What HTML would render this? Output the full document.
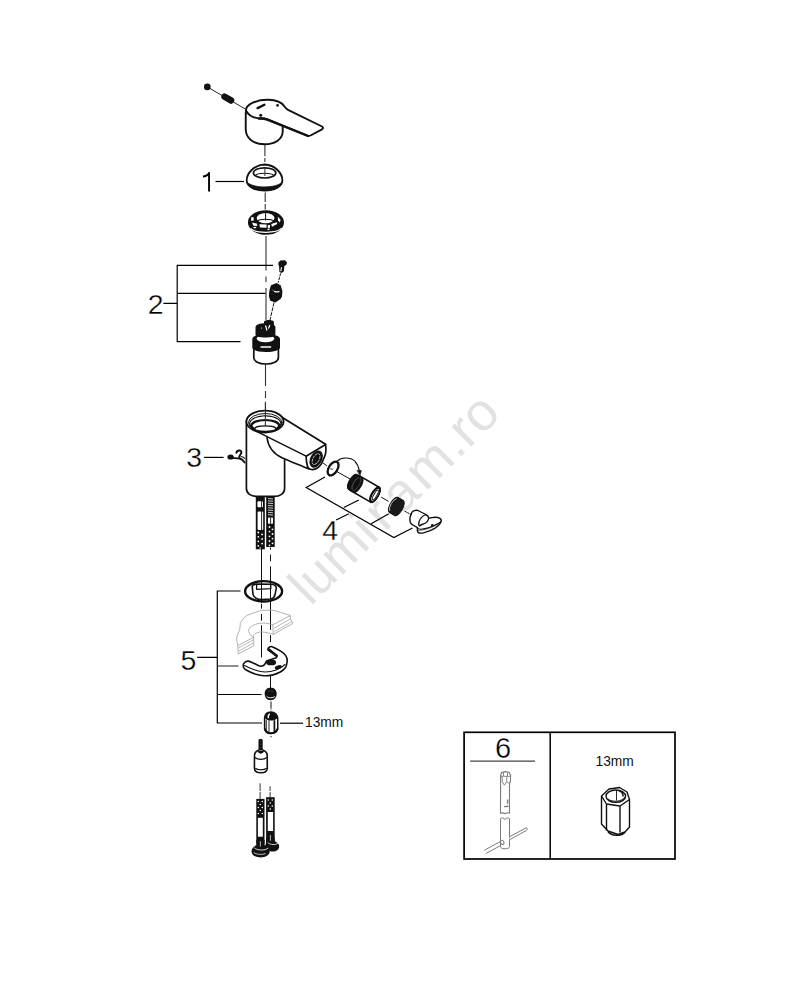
<!DOCTYPE html>
<html><head><meta charset="utf-8"><style>
html,body{margin:0;padding:0;background:#fff;}
svg{display:block;}
text{font-family:"Liberation Sans",sans-serif;}
</style></head><body>
<svg width="792" height="1000" viewBox="0 0 792 1000">
<rect width="792" height="1000" fill="#fff"/>
<!-- WATERMARK -->
<g id="wm">
<text transform="translate(310.4,606.8) rotate(-44.9)" font-size="53" fill="#e2e2e2"><tspan x="0" y="0">l</tspan><tspan x="12.1" y="0">u</tspan><tspan x="42.4" y="0">m</tspan><tspan x="87.6" y="0">i</tspan><tspan x="105.4" y="0">r</tspan><tspan x="129.3" y="0">a</tspan><tspan x="162.7" y="0">m</tspan><tspan x="208.5" y="0">.</tspan><tspan x="223.5" y="0">r</tspan><tspan x="241.5" y="0">o</tspan></text>
</g>

<!-- HANDLE -->
<g id="handle" stroke="#111" fill="#fff" stroke-linejoin="round" stroke-linecap="round">
<path d="M207.4 87L246 109.4" stroke-width="0.9" fill="none"/>
<circle cx="207.3" cy="86.9" r="3.3" fill="#111" stroke="none"/>
<rect x="220.8" y="95.3" width="14" height="6.6" rx="3.3" transform="rotate(30.1 227.8 98.6)" fill="#111" stroke="none"/>
<path d="M245.8 112L245.7 128.5C245.6 138 253 144.3 264.7 144.3C275 144.3 282.7 139 282.7 131.5L282.7 125.5" stroke-width="1.9"/>
<path d="M245.9 110.5C246 104 257 99.6 268.2 99.8C276 100 282 102.5 284.5 106.5C285.5 108 286.5 109 288 109.8L322 126.5C323.5 127.3 323.2 128.6 322 129.3L310.5 135.5C309.5 136 308.5 136 307.5 135.6L267 119.2C264 118.4 261 118.2 258.9 118.4C253 117.8 248 114.5 245.9 110.5Z" stroke-width="1.9"/>
<path d="M258.9 118.6C262 118.4 265 118.8 268 119.8L308 136" stroke-width="2.4" fill="none"/>
<path d="M257.6 108.1L264.4 104.7" stroke-width="2.4"/>
<circle cx="277.5" cy="105.4" r="1.3" fill="#111" stroke="none"/>
<circle cx="260.7" cy="115.2" r="1.5" fill="#111" stroke="none"/>
</g>
<!-- AXIS TOP -->
<g id="axis1" stroke="#333" stroke-width="1.1" fill="none">
<path d="M264.9 145V156.2M264.9 158V162"/>
<path d="M265.2 192.5V202M265.2 204V209.5"/>
<path d="M266 236V270.5M266 276.6V282.3M266 288V320"/>
<path d="M265.5 364V386M265.5 391V398M265.5 403V412"/>
</g>
<!-- CAP 1 -->
<g id="cap1" stroke="#111" fill="#fff">
<path d="M246.7 180.5C246.5 173.5 254 164.8 264.6 164.5C275.2 164.8 282.5 173.5 282.4 180.5C282.3 186.8 274 190.6 264.6 190.6C255.2 190.6 246.8 186.8 246.7 180.5Z" stroke-width="1.8"/>
<path d="M246.9 182C249 187.6 256 190.4 264.6 190.4C273.2 190.4 280.2 187.6 282.2 182C279 185.3 272.5 186.9 264.6 186.9C256.7 186.9 250.2 185.3 246.9 182Z" fill="#111" stroke-width="0.8"/>
<ellipse cx="264.6" cy="172.9" rx="11.2" ry="5.1" stroke-width="1.7"/>
<path d="M255.2 175.8C257.3 172.4 271.9 172.4 274 175.8" fill="none" stroke-width="1.2"/>
<path d="M264.9 167.5V176" stroke-width="1" stroke="#333"/>
</g>
<!-- RING NUT -->
<g id="ringnut">
<ellipse cx="265.95" cy="222.5" rx="18" ry="12.2" fill="#111"/>
<ellipse cx="265.6" cy="218.1" rx="8.9" ry="5.2" fill="#fff"/>
<path d="M257.3 221.2C259 218.6 272 218.6 273.9 221.2" stroke="#111" stroke-width="1.2" fill="none"/>
<path d="M265.6 212.8V220.5" stroke="#111" stroke-width="1"/>
<path d="M250.6 228.4C255 233.6 277 233.6 281.6 228.2" stroke="#fff" stroke-width="1.2" fill="none"/>
<g fill="#fff">
<path d="M252 222.6L256.8 223.6L257.3 226L253.5 225.8Z"/>
<path d="M259.3 224.2L266.7 224.6L266.5 227.8L260 227.4Z"/>
<path d="M267.8 225L270 225L269.8 228.2L267.8 228.2Z"/>
<path d="M271.2 223.9L276.8 222.2L277.2 224L272 226.8Z"/>
<path d="M277.8 216.8L280.5 219.5L280 222.5L278 220.5Z"/>
<path d="M251 217.5L253.5 217L253.8 220.5L251.3 221Z"/>
<ellipse cx="254.8" cy="227.6" rx="1.6" ry="0.8"/>
<ellipse cx="268.5" cy="229.3" rx="1.4" ry="0.6"/>
</g>
</g>
<!-- PART 2 small -->
<g id="p2">
<path d="M278.4 262.5L280.3 260.4L285 260.2L287 262.2L286.6 264.4L284.3 266.3L283.9 271.3L281.8 272.9L279.4 272L279.1 266.6L278.4 264.8Z" fill="#111"/>
<path d="M281.5 267.5L280.8 270.8" stroke="#fff" stroke-width="1.1" stroke-linecap="round"/>
<path d="M280.6 273.3L278.2 282.6" stroke="#111" stroke-width="1" stroke-dasharray="3 1"/>
<path d="M271 285.3L276.6 283L280.6 285.2L282.4 291L282 296.5L280.5 299L275.5 302.5L270.3 300.8L268.8 296L269.5 290Z" fill="#111"/>
<path d="M274.5 291.4Q277 292.5 279 291.5" stroke="#fff" stroke-width="1.2" fill="none" stroke-linecap="round"/>
<path d="M272.2 289.5L273.6 291" stroke="#888" stroke-width="1" fill="none"/>
<path d="M274 302.5L270 320" stroke="#111" stroke-width="1" stroke-dasharray="4 1"/>
</g>
<!-- CARTRIDGE -->
<g id="cartridge">
<path d="M253.8 348V357.5C253.8 361.5 259 364 266 364C273 364 278.4 361.5 278.4 357.5V348" fill="#fff" stroke="#111" stroke-width="1.7"/>
<path d="M252.3 339V347.5C252.3 350 258 352 266 352C274 352 280 350 280 347.5V339C280 336 274 334 266 334C258 334 252.3 336 252.3 339Z" fill="#111"/>
<ellipse cx="265.5" cy="338.6" rx="8.8" ry="3.7" fill="#fff"/>
<path d="M261 347H270.6" stroke="#fff" stroke-width="1.4" stroke-linecap="round"/>
<path d="M255.5 327.5C255.5 324.5 260 323.2 265.5 323.2C271 323.2 275.4 324.5 275.4 327.5V334.5C275.4 336.7 271 337.5 265.5 337.5C260 337.5 255.5 336.7 255.5 334.5Z" fill="#111"/>
<path d="M264 321.5C265 319.5 272.5 319.5 273.8 321.5L274 327C272 330.5 266 330.5 264 327Z" fill="#111"/>
<path d="M265.5 325.5L267 330.5M269.8 325L268.5 328.5" stroke="#fff" stroke-width="1.2"/>
<circle cx="261.5" cy="328" r="0.6" fill="#fff"/>
</g>


<!-- BODY -->
<g id="body" stroke="#111" stroke-linejoin="round" stroke-linecap="round">
<path d="M246.4 421L246.4 488.5C246.4 493.5 251 496.4 257 496.4L274 496.4C280 496.4 284.6 493.5 284.6 488.5L284.6 459.5" fill="#fff" stroke-width="1.7"/>
<path d="M279.5 415.8L325.6 444.3L306.1 456.2L258.2 432.2Z" fill="#fff" stroke="none"/>
<path d="M258.2 432.2L306.1 456.2L306.4 458.7L307.6 467.3C300 465 290 461.5 282.5 458.5C274 455 268.5 447 267 437.5Z" fill="#fff" stroke="none"/>
<path d="M279.5 415.8L325.6 444.3" stroke-width="1.8" fill="none"/>
<path d="M257 431.6L306.1 456.2" stroke-width="1.5" fill="none"/>
<path d="M267 437.5C268 446 272.5 453.5 282.5 458C290 461.5 300 465 308.6 468.8" stroke-width="1.6" fill="none"/>
<path d="M306.1 456.2L325.6 444.6C326.3 449 325.5 455 324 458C322.5 462 321 465.5 318 467.5C315.5 469.3 312.5 469.8 310.5 469.3C308.5 468.8 307.6 467.3 307.4 466C306.6 463 306.2 460 306.1 456.2Z" fill="#fff" stroke-width="1.7"/>
<ellipse cx="316.1" cy="459.1" rx="5.4" ry="8.6" transform="rotate(28 316.1 459.1)" fill="#111"/>
<ellipse cx="316.1" cy="459.1" rx="3.1" ry="6" transform="rotate(28 316.1 459.1)" fill="none" stroke="#fff" stroke-width="0.7" stroke-dasharray="2 1.5"/>
<ellipse cx="265" cy="421.6" rx="18.6" ry="10.9" fill="#fff" stroke-width="1.8"/>
<ellipse cx="265.3" cy="422.6" rx="16.8" ry="9.1" fill="none" stroke-width="1"/>
<ellipse cx="265.3" cy="423.5" rx="15.6" ry="7.6" fill="none" stroke-width="1.2" stroke-dasharray="2.2 0.8"/>
<ellipse cx="265.3" cy="425.6" rx="13.9" ry="5.6" fill="none" stroke-width="2.2"/>
<ellipse cx="265.3" cy="428.7" rx="10.6" ry="2.8" fill="#fff" stroke-width="1.3"/>
<path d="M265.4 402V426" stroke="#333" stroke-width="1.1"/>
<path d="M322.3 462.5L326.6 465.6" stroke-width="1" fill="none"/>
</g>
<!-- PART 3 -->
<g id="p3" stroke="#111" fill="none" stroke-linecap="round" stroke-linejoin="round">
<ellipse cx="230.6" cy="457" rx="3.2" ry="2.6" fill="#111" stroke="none"/>
<path d="M232 457.8C234.5 458.2 237 458.3 239.5 458.5C241.5 458.8 243.2 460.5 244.6 462.6" stroke-width="1.8"/>
<path d="M236.4 452.8C236.8 451 238.6 450.3 240.2 450.6C241.6 451 241.8 452.6 240.8 453.8C239.8 455 239 456.5 239.4 458" stroke-width="2"/>
<path d="M241.5 456.5C242.8 456.8 244 457.5 244.8 458.5" stroke-width="1.1"/>
</g>
<!-- HOSES TOP -->
<g id="hoses1">
<rect x="255.8" y="496" width="9" height="53.3" fill="#111"/>
<rect x="266.2" y="496" width="8.5" height="51" fill="#111"/>
<rect x="257.4" y="501.3" width="5.6" height="6" rx="1" fill="#fff"/>
<rect x="257.6" y="511.4" width="5.6" height="18.5" rx="1" fill="#fff"/>
<path d="M261.6 501V508M261.6 511V530" stroke="#111" stroke-width="0.9"/>
<g stroke="#fff" stroke-width="0.8" fill="none">
<path d="M268 498.5L273 499M268 500.8L273 501.3M268 503.1L273 503.6M268 505.4L273 505.9M268 507.7L273 508.2M268 510L273 510.5M268 512.3L273 512.8M268 514.6L273 515.1"/>
</g>
<rect x="268" y="517.5" width="5" height="6.2" rx="0.8" fill="#fff"/>
<path d="M270.6 517V524.5" stroke="#111" stroke-width="0.9"/>
<g fill="#fff">
<circle cx="258.3" cy="532.5" r="0.9"/><circle cx="262.1" cy="534.4" r="0.9"/><circle cx="258.3" cy="536.8" r="0.9"/><circle cx="262.1" cy="539" r="0.9"/><circle cx="258.3" cy="541.3" r="0.9"/><circle cx="262.1" cy="543.6" r="0.9"/><circle cx="258.3" cy="545.8" r="0.9"/><circle cx="260.2" cy="548" r="0.7"/>
<circle cx="269.5" cy="527" r="0.9"/><circle cx="272.5" cy="529.3" r="0.9"/><circle cx="269.5" cy="531.6" r="0.9"/><circle cx="272.5" cy="534" r="0.9"/><circle cx="269.5" cy="536.3" r="0.9"/><circle cx="272.5" cy="538.6" r="0.9"/><circle cx="269.5" cy="541" r="0.9"/><circle cx="272.5" cy="543.3" r="0.9"/><circle cx="269.5" cy="545.4" r="0.8"/>
</g>
</g>
<!-- AXES MID -->
<g stroke="#111" stroke-width="1" fill="none">
<path d="M261.5 548V603M261.5 603.8V608.6M261.5 614V620.7M261.5 625.2V657.5"/>
<path d="M270.5 547.6V549.6M270.5 554.6V561.2M270.5 566.3V630M270.5 635.1V642.1M270.5 662V688"/>
</g>


<!-- PART 4 -->
<g id="p4" stroke="#111" stroke-linejoin="round" stroke-linecap="round">
<path d="M337.5 472L349.7 478.8M381.5 497.3L388.2 501.2" stroke-width="1" fill="none"/>
<path d="M404.9 511.3L411.5 514.8" stroke-width="1" fill="none" stroke-dasharray="1.8 1.2"/>
<ellipse cx="333.1" cy="468.5" rx="4.3" ry="7.7" transform="rotate(32 333.1 468.5)" fill="none" stroke-width="2.3"/>
<path d="M330.5 468.8L332.6 469.3" stroke-width="0.8"/>
<path d="M337.3 461C341 457.5 350 456.5 355 461.3C357.3 463.8 358.8 467 359.3 470.8" stroke-width="1.1" fill="none"/>
<path d="M357.3 470.3L361.4 470.6L360 475.6Z" fill="#111" stroke-width="0.6"/>
<g transform="translate(354.8 483.1) rotate(29.9)">
<path d="M0 -8.6L23.2 -8.6A3.4 8.6 0 0 1 23.2 8.6L0 8.6A3.4 8.6 0 0 1 0 -8.6Z" fill="#fff" stroke-width="1.6"/>
<path d="M-2.6 -8.6L3.6 -8.6A3.4 8.6 0 0 1 3.6 8.6L-2.6 8.6A3.4 8.6 0 0 1 -2.6 -8.6Z" fill="#111" stroke-width="1"/>
<path d="M0.5 -6.5A2.5 6.8 0 0 0 0.5 6.5" stroke="#777" stroke-width="0.6" fill="none"/>
<path d="M2 -7.5A2.8 7.5 0 0 1 2 7.5" stroke="#555" stroke-width="0.6" fill="none"/>
<ellipse cx="23.2" cy="0" rx="3.4" ry="8.6" fill="#111" stroke-width="1.4"/>
<ellipse cx="23.5" cy="0" rx="2.3" ry="6.7" fill="#fff" stroke="none"/>
<ellipse cx="23.7" cy="0" rx="1.5" ry="5.5" fill="none" stroke-width="0.9"/>
</g>
<g transform="translate(396.3 506.5) rotate(29.9)">
<path d="M-3 -8.6L3 -8.6A3.6 8.6 0 0 1 3 8.6L-3 8.6A3.6 8.6 0 0 1 -3 -8.6Z" fill="#1a1a1a" stroke-width="1"/>
<path d="M-3.8 -6.8A2.6 7 0 0 0 -3.8 6.8" stroke="#fff" stroke-width="0.6" fill="none"/>
</g>
<path d="M411 514.8C411.3 512.8 412.5 511.2 414.2 510.6C415.5 510.2 417 510.2 418 510.5L425.8 514.5C427.5 515.3 428.5 516.5 428.7 518.1L432.7 517.5C435 517.1 438 517.3 440 518.3C441.3 519.2 441.5 520.6 441 522C440 524.5 437 526.8 434.8 528.3C432 530 428.5 531.3 424.2 532.6C422 533.3 419.5 533.3 418 532.3C417.2 531 417.2 529.5 417.3 527.5C415 526.3 413 525.5 411.5 524.1C410 522.8 409.8 520.5 409.9 518.3C410 517 410.4 515.8 411 514.8Z" fill="#fff" stroke-width="1.4"/>
<path d="M425.8 514.5C422.5 516 419.8 518.8 419 522C418.6 523.5 418.5 525.5 419.5 526C420.5 525 422 524.3 423.5 524C426.5 523 428.5 520.5 428.6 518" fill="none" stroke-width="1.3"/>
<path d="M417.3 527.5C418.5 529 419.5 529.3 421 529.2C426 528.8 433 526.3 437.5 523.8C439 523 440 522.5 440.6 521.5" fill="none" stroke-width="1.1"/>
<path d="M418.4 530.3C425 530.2 434 527 440.3 522.6" fill="none" stroke-width="0.7"/>
<circle cx="432.3" cy="525.3" r="1.3" fill="#111" stroke="none"/>
</g>


<!-- PART 5 -->
<g id="p5" stroke="#111" stroke-linejoin="round" stroke-linecap="round">
<ellipse cx="263.6" cy="591.3" rx="18.5" ry="10.2" fill="none" stroke-width="2.4"/>
<path d="M252.2 586.2L253 594.5C254 597.5 257 599.5 261.5 599.6L271 599C273.3 598.5 274.5 596.8 275 594.8L276.3 588.2C276.2 586.2 274.3 584.6 271.5 584.3L256 584.1C254 584.2 252.6 585 252.2 586.2Z" fill="none" stroke-width="1.6"/>
<path d="M256.6 585L256.6 589.3L270.8 588.6L270.8 584.8" fill="none" stroke-width="1.3"/>
</g>
<g id="ghost" stroke="#a8a8a8" stroke-width="0.9" fill="none" stroke-linejoin="round">
<path d="M247 615.3L261.2 610.3L273.7 610.3L290.3 615.5L290.6 619.3L292.8 623.4L273.3 634.4L272.8 624.8L290.3 615.5"/>
<path d="M247 615.3C244 618 241.5 620.5 240.3 623.2C240 625.5 240 627.5 239.9 629C238.5 632.5 237 636 236.6 639C236.8 641 237.3 643.5 237.8 645.7L238.3 654L253.7 645.7L253.7 637.3L237.8 645.7"/>
<path d="M272.8 624.8C270 623.8 267.5 623.3 265.3 623.2C261 623 257.5 623.5 255.3 624.4C252.5 625.5 250.2 627 249.5 628.2C248.7 629.5 248.5 630.5 248.7 631.5C249.2 633 250 634.5 251.2 635.7L253.7 637.3"/>
<path d="M273.3 634.4C269 633 265 632 261.2 631.9C258.5 632 256 633 254.5 634C253.5 635 253.5 636 253.7 637.3"/>
<path d="M274.5 631.5L291.3 621.8M274 628.3L290.6 618.7" stroke-width="0.8"/>
<path d="M239 651L253.2 643M238.5 648L253.2 640" stroke-width="0.8"/>
</g>
<g id="clip" stroke="#111" stroke-linejoin="round" stroke-linecap="round">
<path d="M243.5 663.8C244.5 662.2 246.5 661 248.2 661.1C250.5 661.5 252.5 662.8 255 663.8C257 664.8 259 666 260.5 666.2C262.5 666.3 264 665.5 264.6 664.5C265.5 663 266 661.8 266.6 661.1L276.2 657.7C276.8 657 277 656.3 276.9 655.6L268 649.8C267.8 648.5 268.5 647.5 269.5 647C270.5 646.5 271.5 646.5 272.1 646.8C275 648 278 649.5 280.3 650.9C282.5 652.3 284.5 653.8 285.7 655.6C287 657.5 287.4 659.8 287.1 661.8C286.8 664 286.4 665.7 285.7 667.2C284 669.5 282.5 670.8 280.3 672C277.5 673.5 275 674.5 272.1 675.1C269.5 675.6 266.5 675.8 263.9 675.7C261 675.5 258 674.8 255 674C251.8 672.8 248.8 671.5 246.2 670C244.8 669.2 243.9 668.2 243.5 667.2C243.2 666 243.2 664.8 243.5 663.8Z" fill="#fff" stroke-width="1.6"/>
<path d="M244.5 665.5C247.5 667 251 668.8 255 670C258.5 671.2 262 671.9 265.3 672C269 672 272.8 671.2 276.2 670C279.5 668.7 282.5 666.8 285 664.5" fill="none" stroke-width="1.1"/>
<path d="M268.8 649.5L276.5 655.8" stroke-width="2.6" fill="none"/>
<ellipse cx="271.1" cy="662.4" rx="5" ry="2.9" fill="#111" stroke="none"/>
<ellipse cx="278.2" cy="667.2" rx="3.6" ry="1.8" transform="rotate(-20 278.2 667.2)" fill="#111" stroke="none"/>
<circle cx="270" cy="662.5" r="0.5" fill="#444" stroke="none"/>
</g>
<!-- NUTS -->
<g id="nuts" stroke="#111" stroke-linejoin="round">
<path d="M264.7 694C264.5 690.5 267 687.6 270.6 687.6C274.3 687.6 276.8 690.5 276.7 694C276.6 697.5 274.2 700.2 270.6 700.2C267 700.2 264.8 697.5 264.7 694Z" fill="#111" stroke="none"/>
<path d="M266.6 696.2C268 698.3 273.5 698.3 275 696.2" stroke="#fff" stroke-width="1" fill="none"/>
<path d="M269 690.5V691.8M272 690.5V691.8" stroke="#888" stroke-width="0.6"/>
<path d="M271 701.5V708.6M271 709.5V710.3" stroke-width="1" fill="none"/>
<path d="M264.6 717.5C265 714.5 267.5 712.2 271 712.1C274.5 712.1 277.2 714.5 277.7 717.5L277.8 728.8C277.2 731.5 274.5 733.4 271 733.4C267.5 733.4 265 731.5 264.6 728.8Z" fill="#fff" stroke-width="1.5"/>
<path d="M264.8 718C265 714.5 267.5 712.2 271 712.1C274.5 712.1 277.2 714.5 277.5 718C275.5 720 273.5 720.6 271 720.6C268.5 720.6 266.5 720 264.8 718Z" fill="#111" stroke="none"/>
<path d="M269.3 714.3C268.3 715 268 716.3 268.3 717.6" stroke="#fff" stroke-width="1.5" stroke-linecap="round" fill="none"/>
<path d="M266.3 719.8V730.5M269 720.5V732" stroke-width="0.9" fill="none"/>
<path d="M274.4 720.2V732" stroke-width="1.7" fill="none"/>
<path d="M264.8 728.5C265.8 731.8 268.5 733.2 271 733.2C273.5 733.2 276.5 731.8 277.6 728.5" stroke-width="2" fill="none"/>
<path d="M271 736V737.2" stroke-width="1" fill="none"/>
</g>
<!-- STUD & PIECE -->
<g id="stud" stroke="#111" stroke-linejoin="round">
<path d="M258.5 740.5C258.5 739.5 259.4 739.1 260.6 739.1C261.8 739.1 262.7 739.5 262.7 740.5L262.7 752.5L258.5 752.5Z" fill="#111" stroke="none"/>
<g fill="#fff"><circle cx="260.6" cy="741.5" r="0.55"/><circle cx="260.6" cy="744.5" r="0.55"/><circle cx="260.6" cy="747.6" r="0.55"/><circle cx="260.6" cy="750.6" r="0.55"/></g>
<path d="M254.5 755.2C254.5 752 257.5 749.8 260.8 749.8C264.2 749.8 267.2 752 267.2 755.2L267.3 768C267.3 771 264.5 772.7 260.8 772.7C257.2 772.7 254.4 771 254.4 768Z" fill="#fff" stroke-width="1.6"/>
<path d="M258 751C258.8 752.5 259.5 753 260.7 753C262 753 262.8 752.5 263.5 751" fill="#111" stroke-width="1.4"/>
<path d="M254.8 757.5C256.5 758.8 258.5 759.3 260.8 759.3C263 759.3 265.3 758.8 266.9 757.5" fill="none" stroke-width="1.2"/>
<path d="M255.2 768.2C256.5 769.3 258.5 769.8 260.8 769.8C263.2 769.8 265.3 769.3 266.6 768.2" fill="none" stroke-width="1.2"/>
<path d="M257.5 770.8C259.5 771.3 262.5 771.3 264.2 770.8" stroke="#fff" stroke-width="0.6" fill="none"/>
</g>
<!-- BOTTOM HOSES -->
<g id="hoses2">
<path d="M260.1 783.3V791M260.1 792V798.9M270.1 786.2V791M270.1 792V797.7" stroke="#222" stroke-width="0.9"/>
<rect x="266.1" y="797.2" width="8.6" height="45" fill="#111"/>
<path d="M266 843C264.8 845 265.6 848.5 268 850.2C270.5 852 275 852 277.5 850C279.8 848.2 279.6 845.2 277.8 843.3C276.5 842 275.3 841.5 274.7 841.3L274.7 838L266.1 838Z" fill="#111"/>
<rect x="267.8" y="812" width="5.3" height="19" fill="#fff"/>
<path d="M270.4 835V840.8" stroke="#fff" stroke-width="0.7"/>
<path d="M267.8 842.6C270 845 276 845.3 278.4 842.8" stroke="#fff" stroke-width="0.8" fill="none"/>
<rect x="256.3" y="798.9" width="8.2" height="45" fill="#111"/>
<path d="M252.4 848.5C250.5 851 251.8 854.8 255 856.3C258.5 858 264 857.8 267 855.8C270 853.8 270.5 850.5 268.6 848C267.5 846.5 266 845.5 264.5 845L264.5 840L256.3 840L256.3 845C254.8 845.8 253.3 847 252.4 848.5Z" fill="#111"/>
<rect x="257.9" y="817.8" width="4.9" height="18.9" fill="#fff"/>
<path d="M260.4 841.2V846.5" stroke="#fff" stroke-width="0.7"/>
<path d="M254.2 847.8C257 850.5 265 851 268.2 848" stroke="#fff" stroke-width="0.8" fill="none"/>
<path d="M253.8 852.6C256 854.5 262 855 265.7 853.6" stroke="#fff" stroke-width="0.7" fill="none"/>
<g fill="#fff">
<circle cx="258.3" cy="801.5" r="0.8"/><circle cx="262.3" cy="801.5" r="0.8"/><circle cx="260.3" cy="804.5" r="0.8"/><circle cx="258.3" cy="807.5" r="0.8"/><circle cx="262.3" cy="807.5" r="0.8"/><circle cx="260.3" cy="810.5" r="0.8"/><circle cx="258.3" cy="813.5" r="0.8"/><circle cx="262.3" cy="813.5" r="0.8"/>
<circle cx="268.3" cy="800" r="0.8"/><circle cx="272.3" cy="800" r="0.8"/><circle cx="270.3" cy="803" r="0.8"/><circle cx="268.3" cy="806" r="0.8"/><circle cx="272.3" cy="806" r="0.8"/><circle cx="270.3" cy="809" r="0.8"/>
</g>
</g>
<!-- BOX CONTENTS -->
<g id="tool" stroke="#7a7a7a" stroke-width="1" fill="#fff" stroke-linejoin="round">
<path d="M484.4 850.2L500.5 841.5M486.2 853.3L500.5 845.6" fill="none"/>
<path d="M500.5 818.5C502 817.3 503.5 818 505 819.5C506.5 818 508 817.3 509.5 818.5L509.5 846.5C509.5 848 507.6 848.8 505 848.8C502.4 848.8 500.5 848 500.5 846.5Z"/>
<path d="M509.5 836.8L525.8 828C527 827.3 527.5 828.5 527 829.5L526.5 830.4L509.5 839.8" />
<ellipse cx="502.2" cy="842.3" rx="1.6" ry="2.2" transform="rotate(-30 502.2 842.3)"/>
<path d="M500.6 776L501.5 772.6L505 771.6L509 772.2L510.6 775L510.4 781L509.5 784L509.5 813.3C508.2 812.5 506.5 812.8 505 813.8C503.5 812.8 501.9 812.5 500.5 813.3Z" stroke-width="1.1"/>
<path d="M500.8 776.3L510.4 776.3M502 776.5L502.3 781.8L504.4 785.2L506.6 781.8L506.9 776.5M506.9 781.8L509.5 783.5M503.5 772.5L503.5 776M507.5 772.5L507.5 776" fill="none" stroke-width="0.9"/>
<path d="M504 806.6L508.5 806.2M507.6 799.5V803.8" stroke-width="1.4" fill="none"/>
</g>
<g id="boxnut" stroke="#111" stroke-width="1.4" fill="#fff" stroke-linejoin="round">
<path d="M601.5 796L609 789L619.5 787.5L627 792L629.5 799.5L629.5 827L625 832L618 834.5L608 831L601.5 824Z"/>
<path d="M601.5 796L606.5 804L620 806L629.5 799.5M606.5 804V830.5M620 806V832.5" fill="none"/>
<ellipse cx="615.8" cy="796.2" rx="9.8" ry="6.2" fill="none"/>
<path d="M608 799C612 802.5 622 802 625 797" fill="none" stroke-width="1"/>
<path d="M616.5 790V800.5" fill="none" stroke-width="0.9"/>
<path d="M618.5 790.5C621 791 623.5 793.5 623 796.5" fill="none" stroke-width="1.6"/>
<path d="M608 831.5C610 834.5 614 835.5 618 835.2C621 835 623.5 834 625 832" fill="none" stroke-width="1.6"/>
</g>

<!-- LABELS -->
<g id="labels" fill="#000" stroke="#fff" stroke-width="0.35" font-size="28.5">
<text x="147.8" y="314">2</text>
<text x="186.3" y="467.2">3</text>
<text x="322.3" y="539.8">4</text>
<text x="180.5" y="669.7">5</text>
</g>
<path d="M209.05 172.3V191.6" stroke="#000" stroke-width="1.9"/>
<path d="M202.9 175.6L203 177.6C205.5 177.3 207.3 176.4 208.6 175.2L208.6 172.6C207 174.6 205 175.5 202.9 175.6Z" fill="#000"/>
<!-- LEADERS -->
<g id="leaders" stroke="#000" stroke-width="1.2" fill="none">
<path d="M215.5 181.5H244"/>
<path d="M240.5 341.6H177.2V265.3H273M177.2 293.4H265.5M163.4 303.3H177.2"/>
<path d="M204 457.4H223.6"/>
<path d="M325 477L306.2 487.5L393.8 537.5L412.5 528M343.8 507.5L358.8 500M371.2 523.8L388.8 513.8M336.2 520L348.8 513.8"/>
<path d="M240.5 591H217.3V723H262M217.3 694.5H261.5M197.2 657.4H217.3"/>
<path d="M217.8 666H238.5" stroke="#6a6a6a" stroke-width="1.5"/>
<path d="M280 723.2H303"/>
</g>
<text x="305" y="727.4" font-size="13.8" fill="#111">13mm</text>
<!-- BOX -->
<g id="box">
<rect x="464.1" y="732.3" width="210.9" height="126.7" fill="none" stroke="#000" stroke-width="1.7"/>
<path d="M550.2 732.3V859" stroke="#000" stroke-width="1.5"/>
<path d="M470.1 761.1H535.1" stroke="#444" stroke-width="1.3"/>
<text x="495.1" y="757.7" font-size="29" fill="#000" stroke="#fff" stroke-width="0.35">6</text>
<text x="595.5" y="765.6" font-size="13.8" fill="#111">13mm</text>
</g>
</svg>
</body></html>
